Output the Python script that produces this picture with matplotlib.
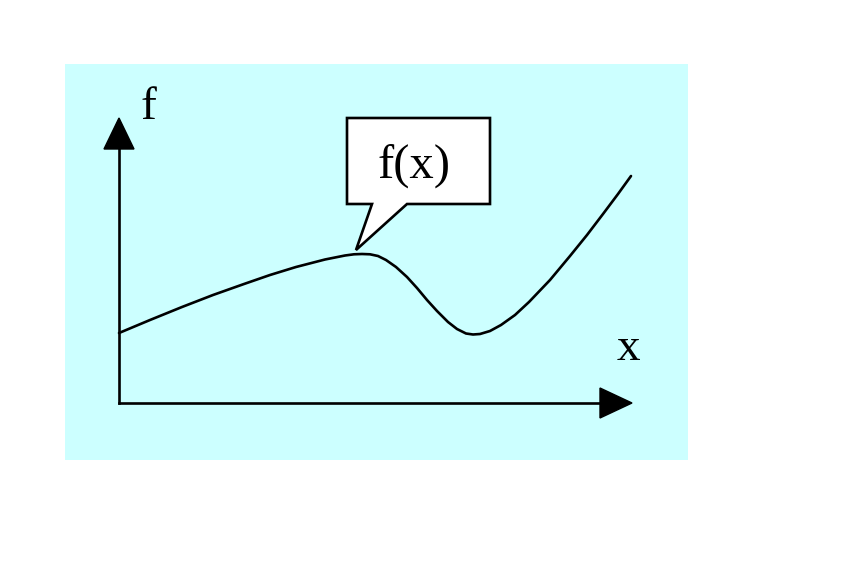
import matplotlib

matplotlib.use("Agg")

import matplotlib.pyplot as plt
from matplotlib.patches import Polygon, Rectangle

plt.rcParams["font.family"] = ["Liberation Serif", "DejaVu Serif"]

# curve (pixel coordinates, y downwards)
curve_x = [119, 150, 182, 213, 244, 270, 296, 325, 345, 354, 362, 370, 378,
           386, 396, 407, 417, 427, 437, 448, 457, 466, 473, 480, 490, 501,
           515, 529, 550, 570, 587, 603, 618, 631]
curve_y = [333, 320, 307, 295, 284, 275, 267, 259.5, 255.5, 254.3, 254, 254.3,
           256, 260, 267, 277, 288, 300, 311, 322, 329, 333.5, 334.5, 334,
           331, 325, 315, 302, 280, 256, 235, 214, 194, 176]

callout_text = "f(x)"
y_label = "f"
x_label = "x"

fig = plt.figure(figsize=(8.66, 5.77), dpi=100)
ax = fig.add_axes([0, 0, 1, 1])
ax.set_xlim(0, 866)
ax.set_ylim(577, 0)
ax.axis("off")

# panel background
ax.add_patch(Rectangle((65, 64), 623, 396, facecolor="#ccffff", edgecolor="none"))

# axes with arrowheads
ax.plot([119, 119], [403, 146], color="black", lw=1.9)
ax.plot([119, 602], [403, 403], color="black", lw=1.9)
ax.add_patch(Polygon([(104, 149), (134, 149), (119, 118)], closed=True,
                     facecolor="black", edgecolor="black"))
ax.add_patch(Polygon([(600, 388), (600, 418), (632, 403)], closed=True,
                     facecolor="black", edgecolor="black"))

ax.text(148, 119, y_label, fontsize=34, ha="center", va="baseline")
ax.text(628, 360, x_label, fontsize=34, ha="center", va="baseline")

# the function
ax.plot(curve_x, curve_y, color="black", lw=1.9, solid_capstyle="round",
        solid_joinstyle="round")

# speech-bubble callout
bubble = [(347, 118), (490, 118), (490, 204), (407, 204), (356, 250),
          (372, 204), (347, 204)]
ax.add_patch(Polygon(bubble, closed=True, facecolor="white",
                     edgecolor="black", lw=1.9, joinstyle="miter"))
ax.text(414, 178, callout_text, fontsize=35, ha="center", va="baseline")

fig.savefig("out.png", dpi=100)
plt.close(fig)
